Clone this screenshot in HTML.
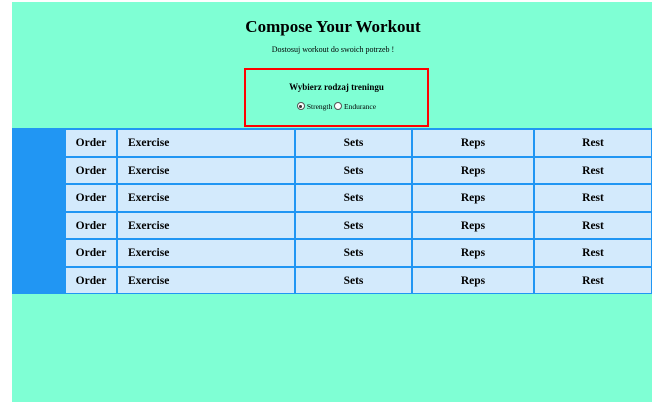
<!DOCTYPE html>
<html><head><style>
body{margin:0;width:666px;height:410px;background:#fff;position:relative;overflow:hidden;font-family:"Liberation Serif",serif;}
#bg{position:absolute;left:12px;top:2px;width:640px;height:400px;background:#7fffd4;}
h1{position:absolute;left:0;width:666px;top:17px;margin:0;text-align:center;font-size:17px;font-weight:bold;}
.sub{position:absolute;left:0;width:666px;top:45px;text-align:center;font-size:8px;}
#box{position:absolute;left:244px;top:68px;width:181px;height:55px;border:2px solid #f00;}
#box .t{position:absolute;top:12px;width:100%;text-align:center;font-size:9px;font-weight:bold;}
#box .r{position:absolute;top:32px;width:100%;text-align:center;font-size:7.5px;}
.rad{display:inline-block;width:6px;height:6px;border:1px solid #555;border-radius:50%;background:#fff;vertical-align:-1px;position:relative;}
.rad.on::after{content:"";position:absolute;left:1.5px;top:1.5px;width:3px;height:3px;border-radius:50%;background:#333;}
#tbl{position:absolute;left:12px;top:128px;width:640px;height:166px;background:#2196f3;}
.c{position:absolute;background:#d3eafc;font-size:11.5px;font-weight:bold;line-height:27px;text-align:center;}
</style></head><body>
<div id="bg"></div>
<h1>Compose Your Workout</h1>
<div class="sub">Dostosuj workout do swoich potrzeb !</div>
<div id="box"><div class="t">Wybierz rodzaj treningu</div>
<div class="r"><span class="rad on"></span> Strength <span class="rad"></span> Endurance</div></div>
<div id="tbl"></div>
<div id="cells"></div>
<script>
var cols=[[66,50,"Order","center"],[118,176,"Exercise","left"],[296,115,"Sets","center"],[413,120,"Reps","center"],[535,116,"Rest","center"]];
var h="";
for(var r=0;r<6;r++){var y=130+r*27.5;
cols.forEach(function(c){h+='<div class="c" style="left:'+c[0]+'px;top:'+y+'px;width:'+c[1]+'px;height:25.5px;text-align:'+c[3]+';'+(c[3]=="left"?'padding-left:10px;box-sizing:border-box;':'')+'">'+c[2]+'</div>';});}
document.getElementById("cells").innerHTML=h;
</script>
</body></html>
